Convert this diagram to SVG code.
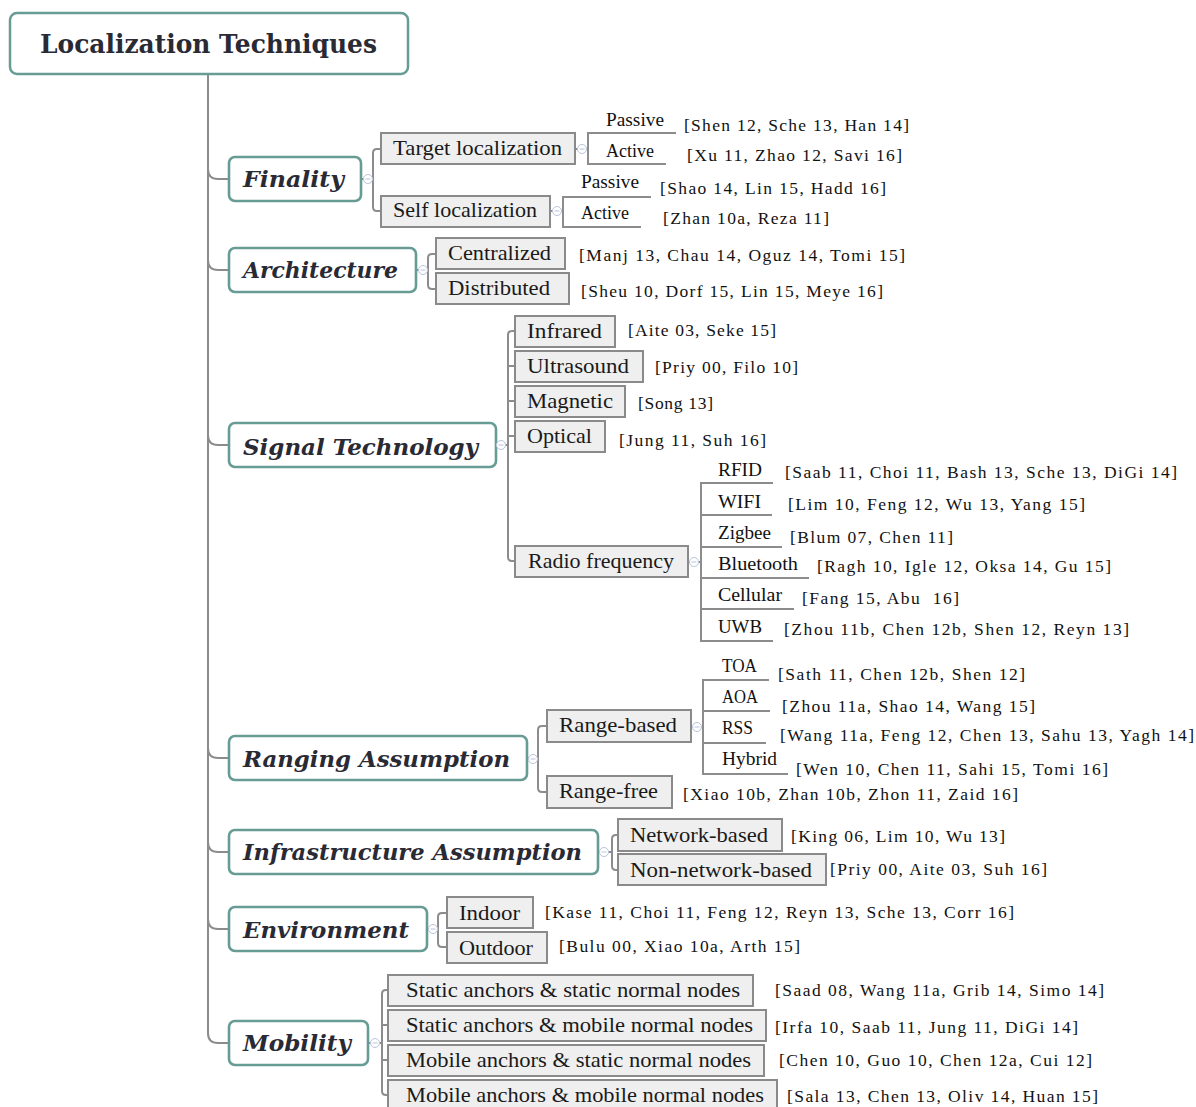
<svg xmlns="http://www.w3.org/2000/svg" width="1196" height="1107" viewBox="0 0 1196 1107">
<style>
.root{fill:#fff;stroke:#679c95;stroke-width:2.5}
.l1{fill:#fff;stroke:#679c95;stroke-width:2.6}
.l2{fill:#efefef;stroke:#8a8a8a;stroke-width:2}
.conn{fill:none;stroke:#8c8c8c;stroke-width:2}
.tog{fill:#fff;stroke:#b9c3dc;stroke-width:1}
.togm{stroke:#b9c3dc;stroke-width:1}
.t0{font-family:"DejaVu Serif","Liberation Serif",serif;font-weight:bold;font-size:26px;fill:#2a2a35}
.t1{font-family:"DejaVu Serif","Liberation Serif",serif;font-weight:bold;font-style:italic;font-size:22px;fill:#2a2a35}
.t2{font-family:"Liberation Serif",serif;font-size:22px;fill:#1a1a1a}
.t3{font-family:"Liberation Serif",serif;font-size:18.5px;fill:#111}
.c{font-family:"Liberation Serif",serif;font-size:17.5px;fill:#111}
</style>
<defs>
<g id="toggle"><circle class="tog" cx="0" cy="0" r="4.5"/><line class="togm" x1="-2.5" y1="0" x2="2.5" y2="0"/></g>
</defs>
<rect width="1196" height="1107" fill="#fff"/>
<g id="connectors">
<path class="conn" d="M208,74 V1033 Q208,1043 218,1043 H229"/>
<path class="conn" d="M208,169 Q208,179 218,179 H229"/>
<path class="conn" d="M208,260 Q208,270 218,270 H229"/>
<path class="conn" d="M208,435 Q208,445 218,445 H229"/>
<path class="conn" d="M208,748 Q208,758 218,758 H229"/>
<path class="conn" d="M208,842 Q208,852 218,852 H229"/>
<path class="conn" d="M208,919 Q208,929 218,929 H229"/>
<path class="conn" d="M361,179 H373"/>
<path class="conn" d="M381,149 H377 Q373,149 373,153 V207 Q373,211 377,211 H381"/>
<path class="conn" d="M575,149 H588"/>
<path class="conn" d="M676,133 H588 V164 H666"/>
<path class="conn" d="M550,211 H563"/>
<path class="conn" d="M651,197 H563 V227 H641"/>
<path class="conn" d="M416,270 H428"/>
<path class="conn" d="M436,254 H432 Q428,254 428,258 V285 Q428,289 432,289 H436"/>
<path class="conn" d="M496,445 H508"/>
<path class="conn" d="M515,331 H512 Q508,331 508,335 V557 Q508,561 512,561 H515"/>
<path class="conn" d="M508,366 H515 M508,401 H515 M508,436 H515"/>
<path class="conn" d="M688,562 H701"/>
<path class="conn" d="M773,483 H701 V641 H773"/>
<path class="conn" d="M701,515 H772 M701,547 H782 M701,578 H809 M701,609 H794"/>
<path class="conn" d="M527,758 H538"/>
<path class="conn" d="M547,726 H542 Q538,726 538,730 V788 Q538,792 542,792 H547"/>
<path class="conn" d="M691,727 H703"/>
<path class="conn" d="M769,680 H703 V774 H788"/>
<path class="conn" d="M703,711 H770 M703,743 H766"/>
<path class="conn" d="M598,852 H612"/>
<path class="conn" d="M618,835 H616 Q612,835 612,839 V866 Q612,870 616,870 H618"/>
<path class="conn" d="M427,929 H438"/>
<path class="conn" d="M447,913 H442 Q438,913 438,917 V943 Q438,947 442,947 H447"/>
<path class="conn" d="M368,1043 H382"/>
<path class="conn" d="M388,990 H386 Q382,990 382,994 V1091 Q382,1095 386,1095 H388"/>
<path class="conn" d="M382,1025 H388 M382,1060 H388"/>
</g>

<g id="root">
<rect class="root" x="10" y="13" width="398" height="61" rx="7"/>
<text class="t0" x="40" y="53" textLength="337" lengthAdjust="spacingAndGlyphs">Localization Techniques</text>
</g>

<g id="finality">
<rect class="l1" x="229" y="157" width="132" height="44" rx="6"/>
<text class="t1" x="243" y="187" textLength="101" lengthAdjust="spacingAndGlyphs">Finality</text>
<use href="#toggle" x="368" y="179"/>
</g>
<g id="target-localization">
<rect class="l2" x="381" y="133" width="194" height="31"/>
<text class="t2" x="393" y="155" textLength="169" lengthAdjust="spacingAndGlyphs">Target localization</text>
<use href="#toggle" x="582" y="149"/>
</g>
<g id="target-passive"><text class="t3" x="606" y="126" textLength="58" lengthAdjust="spacingAndGlyphs">Passive</text>
<text class="c" x="684" y="131" textLength="225">[Shen 12, Sche 13, Han 14]</text></g>
<g id="target-active"><text class="t3" x="606" y="157" textLength="48" lengthAdjust="spacingAndGlyphs">Active</text>
<text class="c" x="687" y="161" textLength="215">[Xu 11, Zhao 12, Savi 16]</text></g>
<g id="self-localization">
<rect class="l2" x="381" y="196" width="169" height="31"/>
<text class="t2" x="393" y="217" textLength="144" lengthAdjust="spacingAndGlyphs">Self localization</text>
<use href="#toggle" x="557" y="211"/>
</g>
<g id="self-passive"><text class="t3" x="581" y="188" textLength="58" lengthAdjust="spacingAndGlyphs">Passive</text>
<text class="c" x="660" y="194" textLength="226">[Shao 14, Lin 15, Hadd 16]</text></g>
<g id="self-active"><text class="t3" x="581" y="219" textLength="48" lengthAdjust="spacingAndGlyphs">Active</text>
<text class="c" x="663" y="224" textLength="166">[Zhan 10a, Reza 11]</text></g>

<g id="architecture">
<rect class="l1" x="229" y="248" width="187" height="44" rx="6"/>
<text class="t1" x="243" y="278" textLength="155" lengthAdjust="spacingAndGlyphs">Architecture</text>
<use href="#toggle" x="423" y="270"/>
</g>
<g id="centralized">
<rect class="l2" x="436" y="238" width="129" height="31"/>
<text class="t2" x="448" y="260" textLength="103" lengthAdjust="spacingAndGlyphs">Centralized</text>
<text class="c" x="579" y="261" textLength="326">[Manj 13, Chau 14, Oguz 14, Tomi 15]</text>
</g>
<g id="distributed">
<rect class="l2" x="436" y="273" width="133" height="31"/>
<text class="t2" x="448" y="295" textLength="102" lengthAdjust="spacingAndGlyphs">Distributed</text>
<text class="c" x="581" y="297" textLength="302">[Sheu 10, Dorf 15, Lin 15, Meye 16]</text>
</g>

<g id="signal-technology">
<rect class="l1" x="229" y="423" width="267" height="44" rx="6"/>
<text class="t1" x="243" y="455" textLength="235" lengthAdjust="spacingAndGlyphs">Signal Technology</text>
<use href="#toggle" x="501" y="445"/>
</g>
<g id="infrared">
<rect class="l2" x="515" y="316" width="100" height="31"/>
<text class="t2" x="527" y="338" textLength="75" lengthAdjust="spacingAndGlyphs">Infrared</text>
<text class="c" x="628" y="336" textLength="148">[Aite 03, Seke 15]</text>
</g>
<g id="ultrasound">
<rect class="l2" x="515" y="351" width="128" height="31"/>
<text class="t2" x="527" y="373" textLength="102" lengthAdjust="spacingAndGlyphs">Ultrasound</text>
<text class="c" x="655" y="373" textLength="143">[Priy 00, Filo 10]</text>
</g>
<g id="magnetic">
<rect class="l2" x="515" y="386" width="110" height="31"/>
<text class="t2" x="527" y="408" textLength="86" lengthAdjust="spacingAndGlyphs">Magnetic</text>
<text class="c" x="638" y="409" textLength="75">[Song 13]</text>
</g>
<g id="optical">
<rect class="l2" x="515" y="421" width="90" height="31"/>
<text class="t2" x="527" y="443" textLength="65" lengthAdjust="spacingAndGlyphs">Optical</text>
<text class="c" x="619" y="446" textLength="147">[Jung 11, Suh 16]</text>
</g>
<g id="radio-frequency">
<rect class="l2" x="515" y="546" width="173" height="31"/>
<text class="t2" x="528" y="568" textLength="146" lengthAdjust="spacingAndGlyphs">Radio frequency</text>
<use href="#toggle" x="694" y="562"/>
</g>
<g id="rfid"><text class="t3" x="718" y="476" textLength="44" lengthAdjust="spacingAndGlyphs">RFID</text>
<text class="c" x="785" y="478" textLength="392">[Saab 11, Choi 11, Bash 13, Sche 13, DiGi 14]</text></g>
<g id="wifi"><text class="t3" x="718" y="508" textLength="43" lengthAdjust="spacingAndGlyphs">WIFI</text>
<text class="c" x="788" y="510" textLength="297">[Lim 10, Feng 12, Wu 13, Yang 15]</text></g>
<g id="zigbee"><text class="t3" x="718" y="539" textLength="53" lengthAdjust="spacingAndGlyphs">Zigbee</text>
<text class="c" x="790" y="543" textLength="163">[Blum 07, Chen 11]</text></g>
<g id="bluetooth"><text class="t3" x="718" y="570" textLength="80" lengthAdjust="spacingAndGlyphs">Bluetooth</text>
<text class="c" x="817" y="572" textLength="294">[Ragh 10, Igle 12, Oksa 14, Gu 15]</text></g>
<g id="cellular"><text class="t3" x="718" y="601" textLength="64" lengthAdjust="spacingAndGlyphs">Cellular</text>
<text class="c" x="802" y="604" textLength="157" xml:space="preserve">[Fang 15, Abu  16]</text></g>
<g id="uwb"><text class="t3" x="718" y="633" textLength="44" lengthAdjust="spacingAndGlyphs">UWB</text>
<text class="c" x="784" y="635" textLength="345">[Zhou 11b, Chen 12b, Shen 12, Reyn 13]</text></g>

<g id="ranging-assumption">
<rect class="l1" x="229" y="736" width="298" height="44" rx="6"/>
<text class="t1" x="243" y="767" textLength="267" lengthAdjust="spacingAndGlyphs">Ranging Assumption</text>
<use href="#toggle" x="533" y="759"/>
</g>
<g id="range-based">
<rect class="l2" x="547" y="710" width="144" height="32"/>
<text class="t2" x="559" y="732" textLength="118" lengthAdjust="spacingAndGlyphs">Range-based</text>
<use href="#toggle" x="697" y="727"/>
</g>
<g id="toa"><text class="t3" x="722" y="672" textLength="35" lengthAdjust="spacingAndGlyphs">TOA</text>
<text class="c" x="778" y="680" textLength="247">[Sath 11, Chen 12b, Shen 12]</text></g>
<g id="aoa"><text class="t3" x="722" y="703" textLength="36" lengthAdjust="spacingAndGlyphs">AOA</text>
<text class="c" x="782" y="712" textLength="253">[Zhou 11a, Shao 14, Wang 15]</text></g>
<g id="rss"><text class="t3" x="722" y="734" textLength="31" lengthAdjust="spacingAndGlyphs">RSS</text>
<text class="c" x="780" y="741" textLength="414">[Wang 11a, Feng 12, Chen 13, Sahu 13, Yagh 14]</text></g>
<g id="hybrid"><text class="t3" x="722" y="765" textLength="55" lengthAdjust="spacingAndGlyphs">Hybrid</text>
<text class="c" x="796" y="775" textLength="312">[Wen 10, Chen 11, Sahi 15, Tomi 16]</text></g>
<g id="range-free">
<rect class="l2" x="547" y="776" width="125" height="32"/>
<text class="t2" x="559" y="798" textLength="99" lengthAdjust="spacingAndGlyphs">Range-free</text>
<text class="c" x="683" y="800" textLength="335">[Xiao 10b, Zhan 10b, Zhon 11, Zaid 16]</text>
</g>

<g id="infrastructure-assumption">
<rect class="l1" x="229" y="830" width="369" height="44" rx="6"/>
<text class="t1" x="243" y="860" textLength="339" lengthAdjust="spacingAndGlyphs">Infrastructure Assumption</text>
<use href="#toggle" x="604" y="852"/>
</g>
<g id="network-based">
<rect class="l2" x="618" y="819" width="164" height="32"/>
<text class="t2" x="630" y="842" textLength="138" lengthAdjust="spacingAndGlyphs">Network-based</text>
<text class="c" x="791" y="842" textLength="214">[King 06, Lim 10, Wu 13]</text>
</g>
<g id="non-network-based">
<rect class="l2" x="618" y="854" width="208" height="31"/>
<text class="t2" x="630" y="877" textLength="182" lengthAdjust="spacingAndGlyphs">Non-network-based</text>
<text class="c" x="830" y="875" textLength="217">[Priy 00, Aite 03, Suh 16]</text>
</g>

<g id="environment">
<rect class="l1" x="229" y="907" width="198" height="44" rx="6"/>
<text class="t1" x="243" y="938" textLength="166" lengthAdjust="spacingAndGlyphs">Environment</text>
<use href="#toggle" x="433" y="929"/>
</g>
<g id="indoor">
<rect class="l2" x="447" y="897" width="86" height="31"/>
<text class="t2" x="459" y="920" textLength="61" lengthAdjust="spacingAndGlyphs">Indoor</text>
<text class="c" x="545" y="918" textLength="469">[Kase 11, Choi 11, Feng 12, Reyn 13, Sche 13, Corr 16]</text>
</g>
<g id="outdoor">
<rect class="l2" x="447" y="932" width="100" height="31"/>
<text class="t2" x="459" y="955" textLength="74" lengthAdjust="spacingAndGlyphs">Outdoor</text>
<text class="c" x="559" y="952" textLength="241">[Bulu 00, Xiao 10a, Arth 15]</text>
</g>

<g id="mobility">
<rect class="l1" x="229" y="1021" width="139" height="44" rx="6"/>
<text class="t1" x="243" y="1051" textLength="108" lengthAdjust="spacingAndGlyphs">Mobility</text>
<use href="#toggle" x="375" y="1043"/>
</g>
<g id="static-static">
<rect class="l2" x="388" y="975" width="365" height="31"/>
<text class="t2" x="406" y="997" textLength="334" lengthAdjust="spacingAndGlyphs">Static anchors &amp; static normal nodes</text>
<text class="c" x="775" y="996" textLength="329">[Saad 08, Wang 11a, Grib 14, Simo 14]</text>
</g>
<g id="static-mobile">
<rect class="l2" x="388" y="1010" width="378" height="31"/>
<text class="t2" x="406" y="1032" textLength="347" lengthAdjust="spacingAndGlyphs">Static anchors &amp; mobile normal nodes</text>
<text class="c" x="775" y="1033" textLength="303">[Irfa 10, Saab 11, Jung 11, DiGi 14]</text>
</g>
<g id="mobile-static">
<rect class="l2" x="388" y="1045" width="376" height="31"/>
<text class="t2" x="406" y="1067" textLength="345" lengthAdjust="spacingAndGlyphs">Mobile anchors &amp; static normal nodes</text>
<text class="c" x="779" y="1066" textLength="313">[Chen 10, Guo 10, Chen 12a, Cui 12]</text>
</g>
<g id="mobile-mobile">
<rect class="l2" x="388" y="1080" width="389" height="32"/>
<text class="t2" x="406" y="1102" textLength="358" lengthAdjust="spacingAndGlyphs">Mobile anchors &amp; mobile normal nodes</text>
<text class="c" x="787" y="1102" textLength="311">[Sala 13, Chen 13, Oliv 14, Huan 15]</text>
</g>
</svg>
